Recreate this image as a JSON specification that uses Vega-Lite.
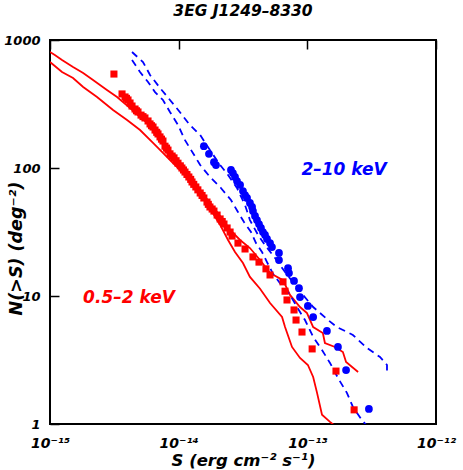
{
 "$schema": "https://vega.github.io/schema/vega-lite/v6.json",
 "width": 386, "height": 384, "autosize": "none",
 "padding": {"left": 50, "top": 40, "right": 27, "bottom": 46},
 "title": {"text": "3EG J1249–8330", "font": "DejaVu Sans", "fontSize": 15.5, "fontWeight": "bold", "fontStyle": "italic", "offset": 15, "color": "black"},
 "config": {
  "view": {"stroke": "black", "strokeWidth": 2},
  "axis": {"domain": false, "ticks": false, "grid": true, "gridColor": "#000000", "gridOpacity": 1, "gridWidth": 1.5, "gridDash": [9, 2000], "zindex": 2, "labelFont": "DejaVu Sans", "labelFontWeight": "bold", "labelFontStyle": "italic", "labelFontSize": 13, "labelColor": "black", "titleFont": "DejaVu Sans", "titleFontWeight": "bold", "titleFontStyle": "italic", "titleFontSize": 16.5, "titleColor": "black", "labelFlush": false, "labelOverlap": false}
 },
 "datasets": {
  "sq": [{"S":3.14e-15,"N":542},{"S":3.63e-15,"N":379},{"S":3.83e-15,"N":359},{"S":3.93e-15,"N":350},{"S":4.04e-15,"N":340},{"S":4.19e-15,"N":322},{"S":4.34e-15,"N":305},{"S":4.58e-15,"N":289},{"S":4.70e-15,"N":280},{"S":4.83e-15,"N":274},{"S":5.10e-15,"N":259},{"S":5.28e-15,"N":252},{"S":5.47e-15,"N":246},{"S":5.78e-15,"N":233},{"S":5.99e-15,"N":221},{"S":6.15e-15,"N":214},{"S":6.32e-15,"N":209},{"S":6.55e-15,"N":198},{"S":6.75e-15,"N":190},{"S":6.91e-15,"N":184.5},{"S":7.16e-15,"N":175},{"S":7.35e-15,"N":168},{"S":7.55e-15,"N":162.5},{"S":7.83e-15,"N":148},{"S":8.05e-15,"N":143},{"S":8.26e-15,"N":138},{"S":8.56e-15,"N":129},{"S":8.90e-15,"N":124},{"S":9.20e-15,"N":120},{"S":9.55e-15,"N":114},{"S":9.88e-15,"N":109},{"S":1.03e-14,"N":104},{"S":1.06e-14,"N":100},{"S":1.09e-14,"N":96.5},{"S":1.12e-14,"N":93.0},{"S":1.16e-14,"N":89},{"S":1.20e-14,"N":85.1},{"S":1.24e-14,"N":81.5},{"S":1.27e-14,"N":77.8},{"S":1.31e-14,"N":74.5},{"S":1.36e-14,"N":71.1},{"S":1.41e-14,"N":67.5},{"S":1.47e-14,"N":63.8},{"S":1.52e-14,"N":61},{"S":1.57e-14,"N":58.3},{"S":1.66e-14,"N":54.2},{"S":1.70e-14,"N":52},{"S":1.75e-14,"N":49.6},{"S":1.82e-14,"N":47.8},{"S":1.88e-14,"N":46.1},{"S":1.99e-14,"N":42.9},{"S":2.10e-14,"N":40.0},{"S":2.18e-14,"N":38.2},{"S":2.25e-14,"N":36.5},{"S":2.38e-14,"N":34.0},{"S":2.51e-14,"N":31.6},{"S":2.60e-14,"N":29.4},{"S":2.89e-14,"N":25.9},{"S":3.28e-14,"N":23.3},{"S":3.78e-14,"N":20.2},{"S":4.21e-14,"N":18.4},{"S":4.77e-14,"N":16.3},{"S":5.13e-14,"N":14.6},{"S":6.47e-14,"N":12.9},{"S":6.71e-14,"N":10.9},{"S":6.95e-14,"N":9.31},{"S":7.88e-14,"N":7.78},{"S":8.17e-14,"N":6.49},{"S":9.09e-14,"N":5.23},{"S":1.09e-13,"N":3.86},{"S":1.67e-13,"N":2.59},{"S":2.31e-13,"N":1.29}],
  "rU": [{"S":1.00e-15,"N":806},{"S":1.09e-15,"N":764},{"S":1.24e-15,"N":698},{"S":1.51e-15,"N":615},{"S":1.81e-15,"N":552},{"S":2.16e-15,"N":487},{"S":2.77e-15,"N":407},{"S":3.32e-15,"N":359},{"S":4.19e-15,"N":294},{"S":5.01e-15,"N":250},{"S":5.99e-15,"N":217},{"S":7.16e-15,"N":178},{"S":8.56e-15,"N":133},{"S":1.02e-14,"N":104},{"S":1.27e-14,"N":80.6},{"S":1.47e-14,"N":67.3},{"S":1.75e-14,"N":53.3},{"S":2.10e-14,"N":42.2},{"S":2.51e-14,"N":32.8},{"S":3.00e-14,"N":27.4},{"S":3.58e-14,"N":23.7},{"S":4.29e-14,"N":19.1},{"S":5.13e-14,"N":15.1},{"S":6.47e-14,"N":13.3},{"S":7.33e-14,"N":10.2},{"S":8.77e-14,"N":8.20},{"S":9.94e-14,"N":7.36},{"S":1.11e-13,"N":5.72},{"S":1.32e-13,"N":5.14},{"S":1.37e-13,"N":4.29},{"S":1.64e-13,"N":4.00},{"S":1.89e-13,"N":3.65},{"S":2.00e-13,"N":3.05},{"S":2.48e-13,"N":2.55}],
  "rL": [{"S":1.00e-15,"N":673},{"S":1.24e-15,"N":562},{"S":1.51e-15,"N":505},{"S":1.81e-15,"N":429},{"S":2.32e-15,"N":359},{"S":3.09e-15,"N":284},{"S":3.97e-15,"N":237},{"S":5.01e-15,"N":198},{"S":6.32e-15,"N":157},{"S":7.55e-15,"N":131},{"S":9.04e-15,"N":109},{"S":1.12e-14,"N":88.2},{"S":1.34e-14,"N":71.1},{"S":1.60e-14,"N":56.2},{"S":1.82e-14,"N":45.3},{"S":2.10e-14,"N":35.9},{"S":2.42e-14,"N":27.4},{"S":2.74e-14,"N":22.1},{"S":3.16e-14,"N":18.1},{"S":3.58e-14,"N":14.1},{"S":4.29e-14,"N":11.4},{"S":5.13e-14,"N":8.81},{"S":6.36e-14,"N":6.85},{"S":6.71e-14,"N":5.72},{"S":7.60e-14,"N":4.00},{"S":8.77e-14,"N":3.28},{"S":1.01e-13,"N":2.89},{"S":1.11e-13,"N":2.33},{"S":1.19e-13,"N":1.75},{"S":1.30e-13,"N":1.18},{"S":1.50e-13,"N":1.04},{"S":1.64e-13,"N":0.965}],
  "ci": [{"S":1.57e-14,"N":148},{"S":1.72e-14,"N":129},{"S":1.88e-14,"N":111},{"S":1.95e-14,"N":105.5},{"S":2.55e-14,"N":96.5},{"S":2.64e-14,"N":91.4},{"S":2.74e-14,"N":85.1},{"S":2.84e-14,"N":79.1},{"S":3.00e-14,"N":73.7},{"S":3.16e-14,"N":66.1},{"S":3.28e-14,"N":61.5},{"S":3.40e-14,"N":58.3},{"S":3.58e-14,"N":53.3},{"S":3.72e-14,"N":49.6},{"S":3.78e-14,"N":46.1},{"S":3.92e-14,"N":42.2},{"S":4.06e-14,"N":39.2},{"S":4.21e-14,"N":36.5},{"S":4.36e-14,"N":34.0},{"S":4.52e-14,"N":31.6},{"S":4.69e-14,"N":30.0},{"S":4.86e-14,"N":27.9},{"S":5.13e-14,"N":25.9},{"S":5.31e-14,"N":24.1},{"S":6.02e-14,"N":21.7},{"S":6.02e-14,"N":19.1},{"S":7.08e-14,"N":16.5},{"S":7.20e-14,"N":15.1},{"S":7.88e-14,"N":13.1},{"S":8.61e-14,"N":11.5},{"S":8.77e-14,"N":9.82},{"S":1.01e-13,"N":8.36},{"S":1.11e-13,"N":6.85},{"S":1.42e-13,"N":5.33},{"S":1.73e-13,"N":4.00},{"S":2.00e-13,"N":2.64},{"S":3.01e-13,"N":1.31}],
  "bU": [{"S":4.34e-15,"N":806},{"S":5.28e-15,"N":673},{"S":5.99e-15,"N":533},{"S":7.16e-15,"N":422},{"S":8.56e-15,"N":340},{"S":1.02e-14,"N":274},{"S":1.22e-14,"N":217},{"S":1.47e-14,"N":181},{"S":1.75e-14,"N":138},{"S":2.10e-14,"N":105.5},{"S":2.42e-14,"N":88.2},{"S":2.84e-14,"N":69.8},{"S":3.28e-14,"N":51.4},{"S":3.58e-14,"N":39.2},{"S":4.14e-14,"N":30.0},{"S":4.69e-14,"N":25.0},{"S":5.61e-14,"N":19.8},{"S":6.71e-14,"N":15.4},{"S":8.02e-14,"N":12.2},{"S":9.25e-14,"N":10.2},{"S":1.11e-13,"N":8.20},{"S":1.45e-13,"N":6.49},{"S":1.70e-13,"N":5.72},{"S":2.26e-13,"N":4.96},{"S":2.91e-13,"N":3.92},{"S":3.67e-13,"N":3.34},{"S":4.16e-13,"N":2.89},{"S":4.16e-13,"N":2.55}],
  "bL": [{"S":4.34e-15,"N":698},{"S":5.01e-15,"N":562},{"S":5.78e-15,"N":470},{"S":6.55e-15,"N":392},{"S":7.55e-15,"N":340},{"S":8.56e-15,"N":274},{"S":9.88e-15,"N":217},{"S":1.12e-14,"N":165},{"S":1.29e-14,"N":131},{"S":1.47e-14,"N":105.5},{"S":1.75e-14,"N":85.1},{"S":2.13e-14,"N":69.8},{"S":2.55e-14,"N":56.2},{"S":2.89e-14,"N":45.3},{"S":3.22e-14,"N":37.8},{"S":3.65e-14,"N":31.6},{"S":3.99e-14,"N":25.9},{"S":4.44e-14,"N":22.1},{"S":4.86e-14,"N":18.4},{"S":5.41e-14,"N":14.9},{"S":6.13e-14,"N":12.6},{"S":7.33e-14,"N":10.2},{"S":8.31e-14,"N":8.20},{"S":9.59e-14,"N":6.49},{"S":1.11e-13,"N":4.79},{"S":1.30e-13,"N":3.79},{"S":1.50e-13,"N":3.00},{"S":1.73e-13,"N":2.29},{"S":2.03e-13,"N":1.75},{"S":2.26e-13,"N":1.36},{"S":2.66e-13,"N":1.07},{"S":2.96e-13,"N":0.948}],
  "lab": [{"S":1.93e-13,"N":96.5,"t":"2–10 keV","c":"blue"},{"S":4.11e-15,"N":9.64,"t":"0.5–2 keV","c":"red"}]
 },
 "layer": [
  {"data": {"name": "rU"}, "mark": {"type": "line", "color": "#ff0000", "strokeWidth": 1.8, "clip": true},
   "encoding": {"x": {"field": "S", "type": "quantitative", "scale": {"type": "log", "domain": [1e-15, 1e-12]},
     "axis": {"orient": "bottom", "values": [1e-15, 1e-14, 1e-13, 1e-12], "labelPadding": 12, "labelFontSize": 14, "title": "S (erg cm⁻² s⁻¹)", "titlePadding": 2,
      "labelExpr": "datum.value < 2e-15 ? '10⁻¹⁵' : datum.value < 2e-14 ? '10⁻¹⁴' : datum.value < 2e-13 ? '10⁻¹³' : '10⁻¹²'"}},
    "y": {"field": "N", "type": "quantitative", "scale": {"type": "log", "domain": [1, 1000]},
     "axis": {"orient": "left", "values": [1, 10, 100, 1000], "labelPadding": 10, "format": "d", "title": "N(>S) (deg⁻²)", "titleFontSize": 17.5, "titleX": -34, "titleY": 208, "titleAngle": -90, "titleAlign": "center", "titleBaseline": "middle"}},
    "order": {"value": null}}},
  {"data": {"name": "rL"}, "mark": {"type": "line", "color": "#ff0000", "strokeWidth": 1.8, "clip": true},
   "encoding": {"x": {"field": "S", "type": "quantitative", "axis": {"orient": "bottom", "gridDash": [5, 2000], "values": [2e-15,3e-15,4e-15,5e-15,6e-15,7e-15,8e-15,9e-15,2e-14,3e-14,4e-14,5e-14,6e-14,7e-14,8e-14,9e-14,2e-13,3e-13,4e-13,5e-13,6e-13,7e-13,8e-13,9e-13], "labels": false, "title": null}},
    "y": {"field": "N", "type": "quantitative", "axis": {"orient": "left", "gridDash": [5, 2000], "values": [2,3,4,5,6,7,8,9,20,30,40,50,60,70,80,90,200,300,400,500,600,700,800,900], "labels": false, "title": null}},
    "order": {"value": null}}},
  {"data": {"name": "bU"}, "mark": {"type": "line", "color": "#0000ff", "strokeWidth": 1.8, "strokeDash": [7, 5], "clip": true},
   "encoding": {"x": {"field": "S", "type": "quantitative", "axis": {"orient": "top", "values": [1e-15, 1e-14, 1e-13, 1e-12], "labels": false, "title": null}},
    "y": {"field": "N", "type": "quantitative", "axis": {"orient": "right", "values": [1, 10, 100, 1000], "labels": false, "title": null}},
    "order": {"value": null}}},
  {"data": {"name": "bL"}, "mark": {"type": "line", "color": "#0000ff", "strokeWidth": 1.8, "strokeDash": [7, 5], "clip": true},
   "encoding": {"x": {"field": "S", "type": "quantitative", "axis": {"orient": "top", "gridDash": [5, 2000], "values": [2e-15,3e-15,4e-15,5e-15,6e-15,7e-15,8e-15,9e-15,2e-14,3e-14,4e-14,5e-14,6e-14,7e-14,8e-14,9e-14,2e-13,3e-13,4e-13,5e-13,6e-13,7e-13,8e-13,9e-13], "labels": false, "title": null}},
    "y": {"field": "N", "type": "quantitative", "axis": {"orient": "right", "gridDash": [5, 2000], "values": [2,3,4,5,6,7,8,9,20,30,40,50,60,70,80,90,200,300,400,500,600,700,800,900], "labels": false, "title": null}},
    "order": {"value": null}}},
  {"data": {"name": "sq"}, "mark": {"type": "square", "color": "#ff0000", "filled": true, "opacity": 1, "size": 50},
   "encoding": {"x": {"field": "S", "type": "quantitative", "axis": null}, "y": {"field": "N", "type": "quantitative", "axis": null}}},
  {"data": {"name": "ci"}, "mark": {"type": "circle", "color": "#0000ff", "opacity": 1, "size": 60},
   "encoding": {"x": {"field": "S", "type": "quantitative", "axis": null}, "y": {"field": "N", "type": "quantitative", "axis": null}}},
  {"data": {"name": "lab"}, "mark": {"type": "text", "font": "DejaVu Sans", "fontSize": 17, "fontWeight": "bold", "fontStyle": "italic", "align": "center", "baseline": "middle"},
   "encoding": {"x": {"field": "S", "type": "quantitative", "axis": null}, "y": {"field": "N", "type": "quantitative", "axis": null}, "text": {"field": "t"},
    "color": {"field": "c", "type": "nominal", "scale": {"domain": ["blue", "red"], "range": ["#0000ff", "#ff0000"]}, "legend": null}}}
 ],
 "resolve": {"axis": {"x": "independent", "y": "independent"}}
}
